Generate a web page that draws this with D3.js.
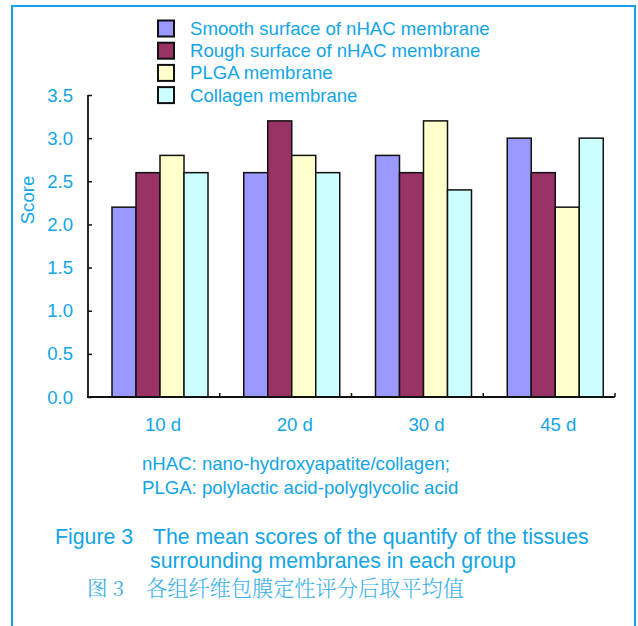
<!DOCTYPE html>
<html>
<head>
<meta charset="utf-8">
<script src="https://cdn.jsdelivr.net/npm/d3@7/dist/d3.min.js"></script>
<style>
  html, body { margin: 0; padding: 0; background: #fff; }
  svg { display: block; }
  text { font-family: "Liberation Sans", Arial, sans-serif; }
</style>
</head>
<body>
<script>
// Mean tissue scores per membrane group at each time point
const categories = ["10 d", "20 d", "30 d", "45 d"];
const seriesNames = [
  "Smooth surface of nHAC membrane",
  "Rough surface of nHAC membrane",
  "PLGA membrane",
  "Collagen membrane"
];
const smoothValues   = [2.2, 2.6, 2.8, 3.0];
const roughValues    = [2.6, 3.2, 2.6, 2.6];
const plgaValues     = [2.8, 2.8, 3.2, 2.2];
const collagenValues = [2.6, 2.6, 2.4, 3.0];
const yTicks = [0, 0.5, 1.0, 1.5, 2.0, 2.5, 3.0, 3.5];
const seriesColors = ["#9999ff", "#993366", "#ffffcc", "#ccffff"];

const seriesValues = [smoothValues, roughValues, plgaValues, collagenValues];

const W = 638, H = 626;
const ink = "#12a5e6";
const fs = 18.6;

const svg = d3.select("body").append("svg")
  .attr("width", W).attr("height", H);

// outer frame
svg.append("rect")
  .attr("x", 12).attr("y", 6)
  .attr("width", 623).attr("height", 640)
  .attr("fill", "none").attr("stroke", ink).attr("stroke-width", 2);

// plot area
const x0 = 88, x1 = 615, yTop = 95, yBot = 397;

const x = d3.scaleBand().domain(categories).range([x0, x1]).paddingInner(0).paddingOuter(0);
const xs = d3.scaleBand().domain(d3.range(seriesNames.length))
  .range([24, 120]).padding(0);
const y = d3.scaleLinear().domain([0, 3.5]).range([yBot, yTop]);

// bars
const groups = svg.append("g").selectAll("g")
  .data(categories)
  .join("g")
  .attr("transform", d => `translate(${x(d)},0)`);

groups.selectAll("rect")
  .data((c, ci) => seriesValues.map((vals, si) => ({ si, v: vals[ci] })))
  .join("rect")
  .attr("x", d => xs(d.si))
  .attr("y", d => y(d.v))
  .attr("width", xs.bandwidth())
  .attr("height", d => yBot - y(d.v))
  .attr("fill", d => seriesColors[d.si])
  .attr("stroke", "#111")
  .attr("stroke-width", 1.5);

// y axis (ticks pointing inward)
const yAxis = svg.append("g")
  .attr("transform", `translate(${x0},0)`)
  .call(d3.axisRight(y).tickValues(yTicks).tickSize(4).tickFormat(""));
yAxis.select(".domain").remove();
yAxis.selectAll(".tick line").attr("stroke", "#111").attr("stroke-width", 1.5);
svg.append("line")
  .attr("x1", x0).attr("x2", x0).attr("y1", yTop).attr("y2", yBot)
  .attr("stroke", "#111").attr("stroke-width", 1.8);

svg.append("g").selectAll("text")
  .data(yTicks)
  .join("text")
  .attr("x", 73).attr("y", d => y(d))
  .attr("dy", "0.35em")
  .attr("text-anchor", "end")
  .attr("font-size", fs)
  .attr("fill", ink)
  .text(d => d3.format(".1f")(d));

// x axis (ticks pointing inward at category boundaries)
const xBoundaries = categories.map(c => x(c) + x.bandwidth());
svg.append("line")
  .attr("x1", x0 - 1).attr("x2", x1).attr("y1", yBot).attr("y2", yBot)
  .attr("stroke", "#111").attr("stroke-width", 1.8);
svg.append("g").selectAll("line")
  .data(xBoundaries)
  .join("line")
  .attr("x1", d => d).attr("x2", d => d)
  .attr("y1", yBot).attr("y2", yBot - 4)
  .attr("stroke", "#111").attr("stroke-width", 1.5);

svg.append("g").selectAll("text")
  .data(categories)
  .join("text")
  .attr("x", d => x(d) + (xs.range()[0] + xs.range()[1]) / 2 + 3)
  .attr("y", 424)
  .attr("dy", "0.35em")
  .attr("text-anchor", "middle")
  .attr("font-size", fs)
  .attr("fill", ink)
  .text(d => d);

// y axis title
svg.append("text")
  .attr("transform", "translate(27,200) rotate(-90)")
  .attr("dy", "0.35em")
  .attr("text-anchor", "middle")
  .attr("font-size", fs)
  .attr("fill", ink)
  .text("Score");

// legend
const legend = svg.append("g").selectAll("g")
  .data(seriesNames)
  .join("g")
  .attr("transform", (d, i) => `translate(158,${28.5 + i * 22.2})`);
legend.append("rect")
  .attr("x", 0).attr("y", -8)
  .attr("width", 16).attr("height", 16)
  .attr("fill", (d, i) => seriesColors[i])
  .attr("stroke", "#111").attr("stroke-width", 2);
legend.append("text")
  .attr("x", 32).attr("y", 0)
  .attr("dy", "0.35em")
  .attr("font-size", fs)
  .attr("fill", ink)
  .text(d => d);

// abbreviations
const notes = [
  "nHAC: nano-hydroxyapatite/collagen;",
  "PLGA: polylactic acid-polyglycolic acid"
];
svg.append("g").selectAll("text")
  .data(notes)
  .join("text")
  .attr("x", 142).attr("y", (d, i) => 463 + i * 24)
  .attr("dy", "0.35em")
  .attr("font-size", fs)
  .attr("fill", ink)
  .text(d => d);

// figure caption
svg.append("text")
  .attr("x", 55).attr("y", 537).attr("dy", "0.35em")
  .attr("font-size", 21.3).attr("fill", ink)
  .text("Figure 3");
svg.append("text")
  .attr("x", 153).attr("y", 537).attr("dy", "0.35em")
  .attr("font-size", 21.3).attr("fill", ink)
  .text("The mean scores of the quantify of the tissues");
svg.append("text")
  .attr("x", 150).attr("y", 561).attr("dy", "0.35em")
  .attr("font-size", 21.3).attr("fill", ink)
  .text("surrounding membranes in each group");
svg.append("text")
  .attr("x", 87).attr("y", 589).attr("dy", "0.35em")
  .attr("font-size", 20.5).attr("fill", "#3ab0ea")
  .style("font-family", "'Noto Serif CJK SC', 'Noto Sans CJK SC', sans-serif")
  .text("图 3");
svg.append("text")
  .attr("x", 146).attr("y", 589).attr("dy", "0.35em")
  .attr("font-size", 21.2).attr("fill", "#3ab0ea")
  .attr("font-weight", 300)
  .style("font-family", "'Noto Serif CJK SC', 'Noto Sans CJK SC', sans-serif")
  .text("各组纤维包膜定性评分后取平均值");
</script>
</body>
</html>
